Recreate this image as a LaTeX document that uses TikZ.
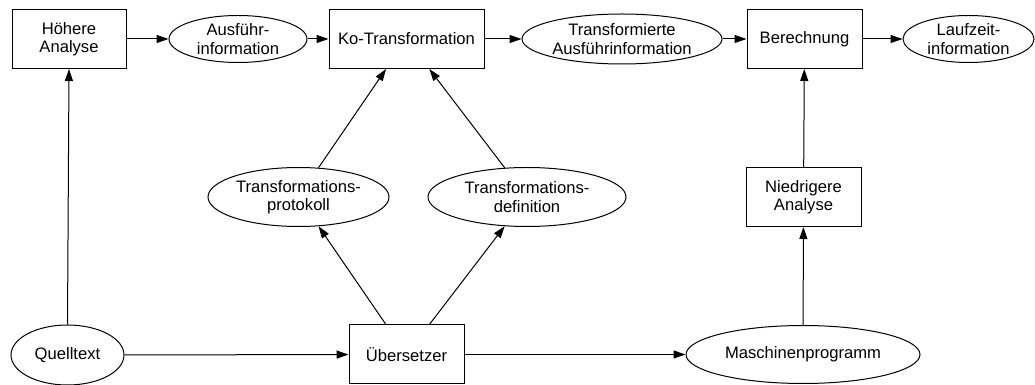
\documentclass[tikz,border=0pt]{standalone}
\usepackage{fontspec}
\setmainfont{Liberation Sans}
\usetikzlibrary{arrows.meta,shapes.geometric}

\begin{document}
\begin{tikzpicture}[x=1pt,y=1pt,
  every node/.style={font=\fontsize{16.6}{18.5}\selectfont,align=center},
  procbox/.style={draw=drawColor,line width=1pt,rectangle,inner sep=0pt,minimum height=59pt},
  infoell/.style={draw=drawColor,line width=1pt,ellipse,inner sep=0pt},
  flow/.style={draw=drawColor,line width=1pt,line join=round,-{Triangle[length=12pt,width=8pt]}}]
\definecolor[named]{fillColor}{rgb}{1.00,1.00,1.00}
\definecolor[named]{drawColor}{rgb}{0.00,0.00,0.00}
\path[use as bounding box,fill=fillColor] (0,0) rectangle (1035,385);

\node[procbox,minimum width=114pt] (hoehere) at ( 69.0,346.0) {Höhere\\Analyse};

\node[infoell,minimum width=138pt,minimum height=47pt] (ausfuehr) at (238.0,346.0) {Ausführ-\\information};

\node[procbox,minimum width=155pt] (kotrans) at (406.5,346.0) {Ko-Transformation};

\node[infoell,minimum width=200pt,minimum height=50pt] (transausf) at (622.0,346.0) {Transformierte\\Ausführinformation};

\node[procbox,minimum width=115pt] (berechnung) at (804.5,346.0) {Berechnung};

\node[infoell,minimum width=131pt,minimum height=47pt] (laufzeit) at (968.5,346.0) {Laufzeit-\\information};

\node[infoell,minimum width=181pt,minimum height=59pt] (protokoll) at (298.5,188.0) {Transformations-\\protokoll};

\node[infoell,minimum width=198pt,minimum height=59pt] (definition) at (527.0,188.0) {Transformations-\\definition};

\node[procbox,minimum width=115pt] (niedrig) at (803.5,188.0) {Niedrigere\\Analyse};

\node[infoell,minimum width=113pt,minimum height=60pt] (quell) at ( 67.5, 30.0) {Quelltext};

\node[procbox,minimum width=115pt] (uebers) at (406.5, 30.5) {Übersetzer};

\node[infoell,minimum width=234pt,minimum height=58pt] (maschinen) at (803.0, 30.5) {Maschinenprogramm};

\path[flow] (hoehere) -- (ausfuehr);
\path[flow] (ausfuehr) -- (kotrans);
\path[flow] (kotrans) -- (transausf);
\path[flow] (transausf) -- (berechnung);
\path[flow] (berechnung) -- (laufzeit);

\path[flow] (quell.north) -- (hoehere.south);
\path[flow] (quell) -- (uebers);
\path[flow] (uebers) -- (maschinen);
\path[flow] (maschinen) -- (niedrig);
\path[flow] (niedrig) -- (berechnung);

\path[flow] (uebers) -- (protokoll);
\path[flow] (uebers) -- (definition);
\path[flow] (protokoll) -- (kotrans);
\path[flow] (definition) -- (kotrans);
\end{tikzpicture}
\end{document}
